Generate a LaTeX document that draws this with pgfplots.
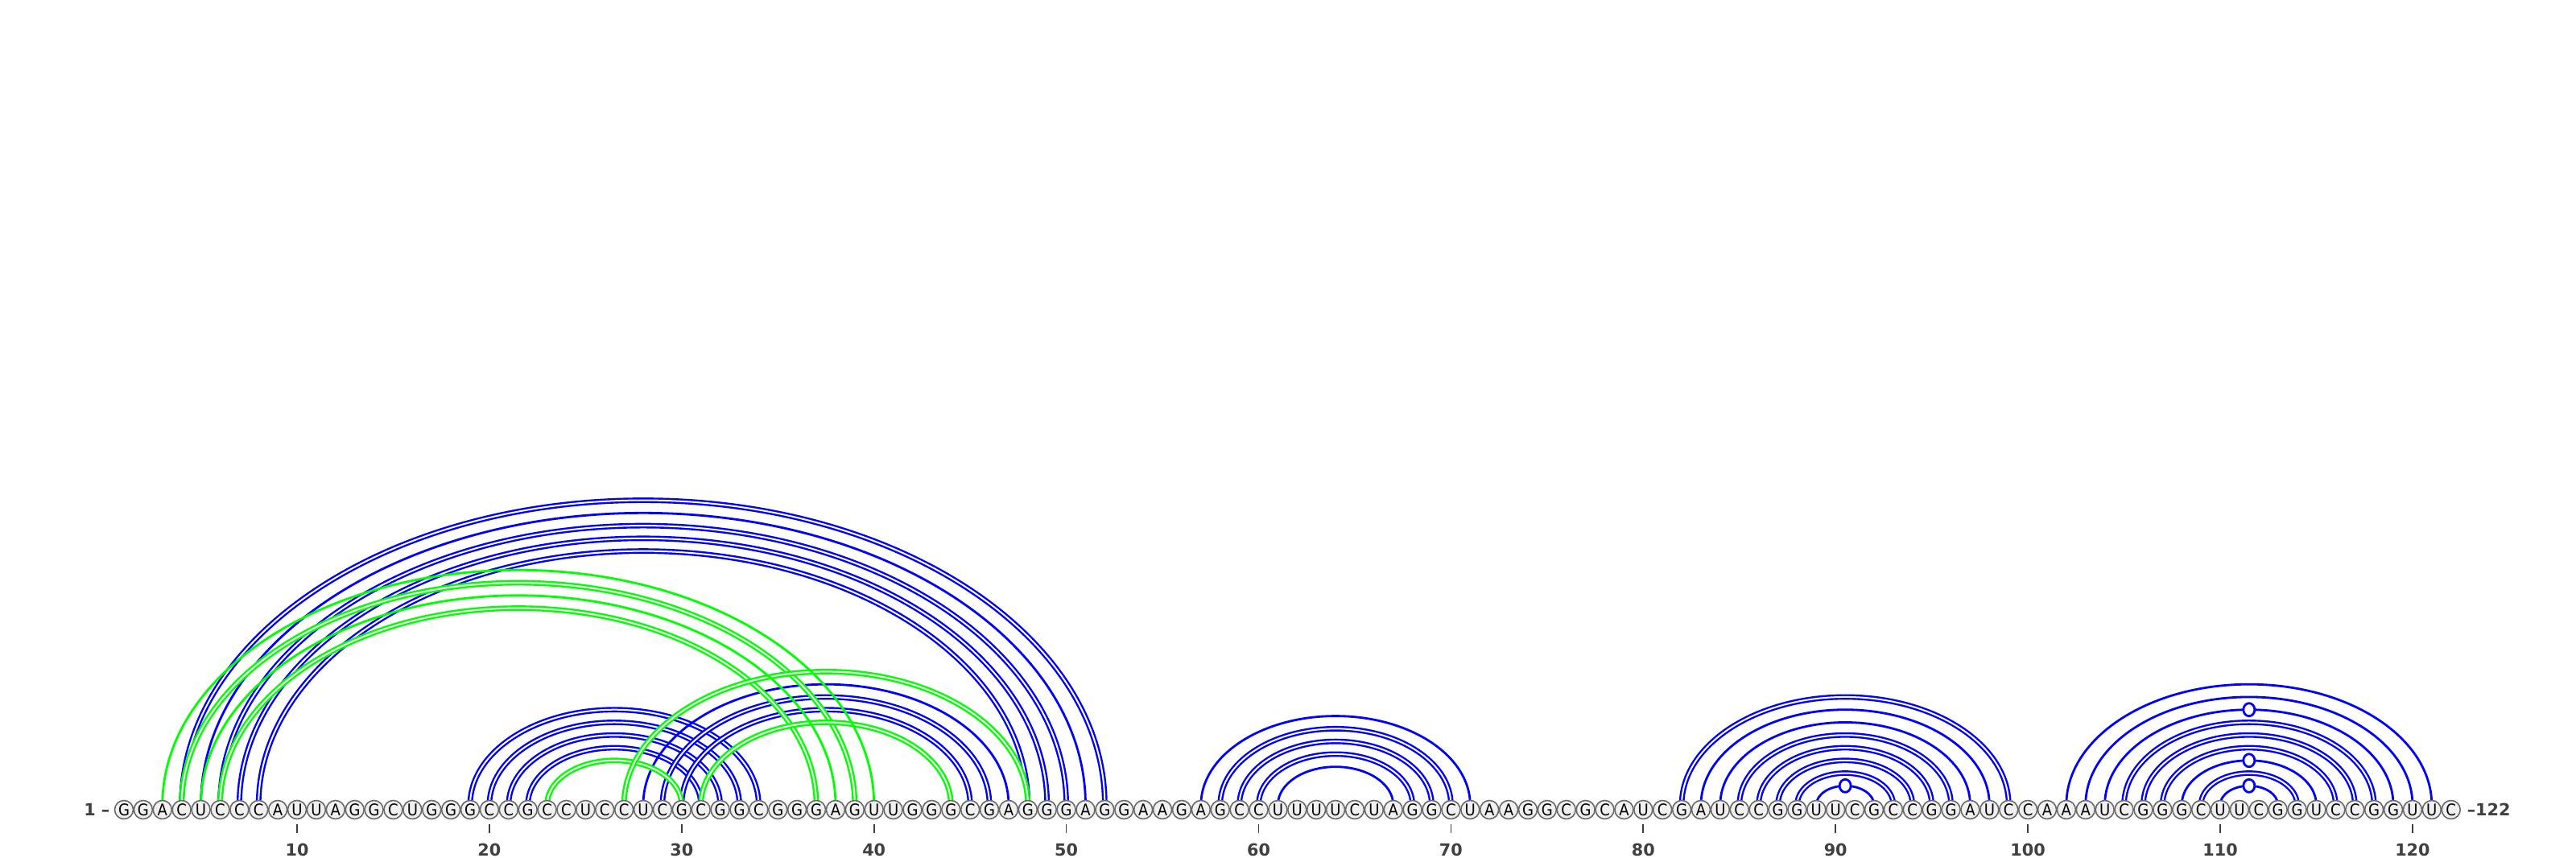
\documentclass[border=0pt]{standalone}
\usepackage{pgfplots}
\pgfplotsset{compat=1.18}
\usepackage{pgfplotstable}
\usepackage{fontspec}
\setmainfont{DejaVu Sans}
\newfontfamily\basefont[FakeStretch=0.9]{DejaVu Sans}
\definecolor{arcblue}{RGB}{0,0,255}
\definecolor{arcgreen}{RGB}{0,255,0}
\definecolor{ovalfill}{RGB}{240,240,240}
\definecolor{ovaldraw}{RGB}{105,105,105}
\definecolor{labgray}{RGB}{64,64,64}

% semi-elliptic arc marks; \arcspan = j - i (nucleotides), 1 nt = 2.389mm
\pgfdeclareplotmark{arcsingle}{%
  \pgfmathsetlengthmacro\arcrx{\arcspan*1.1945mm}%
  \pgfmathsetlengthmacro\arcry{0.66*\arcrx}%
  \pgfsetlinewidth{0.28mm}%
  \pgfpathmoveto{\pgfqpoint{-\arcrx}{0pt}}%
  \pgfpatharc{180}{0}{\arcrx and \arcry}%
  \pgfusepath{stroke}%
}
\pgfdeclareplotmark{arcdouble}{%
  \pgfmathsetlengthmacro\arcrx{\arcspan*1.1945mm}%
  \pgfmathsetlengthmacro\arcry{0.66*\arcrx}%
  \pgfsetlinewidth{0.68mm}%
  \pgfsetinnerlinewidth{0.2mm}%
  \pgfsetinnerstrokecolor{white}%
  \pgfpathmoveto{\pgfqpoint{-\arcrx}{0pt}}%
  \pgfpatharc{180}{0}{\arcrx and \arcry}%
  \pgfusepath{stroke}%
}
\pgfdeclareplotmark{arcgu}{%
  \pgfmathsetlengthmacro\arcrx{\arcspan*1.1945mm}%
  \pgfmathsetlengthmacro\arcry{0.66*\arcrx}%
  \pgfsetlinewidth{0.28mm}%
  \pgfpathmoveto{\pgfqpoint{-\arcrx}{0pt}}%
  \pgfpatharc{180}{0}{\arcrx and \arcry}%
  \pgfusepath{stroke}%
  \pgfpathellipse{\pgfqpoint{0pt}{\arcry}}{\pgfqpoint{0.7mm}{0pt}}{\pgfqpoint{0pt}{0.8mm}}%
  \pgfsetfillcolor{white}%
  \pgfusepath{fill,stroke}%
}

% base pairs (i, j)
\pgfplotstableread{
i j
4 52
6 50
7 49
8 48
19 34
20 33
21 32
22 31
29 46
30 45
58 70
59 69
60 68
82 99
85 96
86 95
87 94
88 93
105 118
106 117
107 116
109 114
}\bluedouble
\pgfplotstableread{
i j
5 51
28 47
57 71
61 67
83 98
84 97
102 121
103 120
}\bluesingle
\pgfplotstableread{
i j
89 92
104 119
108 115
110 113
}\bluegu
\pgfplotstableread{
i j
4 39
6 37
23 30
27 48
31 44
}\greendouble
\pgfplotstableread{
i j
3 40
5 38
}\greensingle
\pgfplotstableread{
p b
1 G
2 G
3 A
4 C
5 U
6 C
7 C
8 C
9 A
10 U
11 U
12 A
13 G
14 G
15 C
16 U
17 G
18 G
19 G
20 C
21 C
22 G
23 C
24 C
25 U
26 C
27 C
28 U
29 C
30 G
31 C
32 G
33 G
34 C
35 G
36 G
37 G
38 A
39 G
40 U
41 U
42 G
43 G
44 G
45 C
46 G
47 A
48 G
49 G
50 G
51 A
52 G
53 G
54 A
55 A
56 G
57 A
58 G
59 C
60 C
61 U
62 U
63 U
64 U
65 C
66 U
67 A
68 G
69 G
70 C
71 U
72 A
73 A
74 G
75 G
76 C
77 G
78 C
79 A
80 U
81 C
82 G
83 A
84 U
85 C
86 C
87 G
88 G
89 U
90 U
91 C
92 G
93 C
94 C
95 G
96 G
97 A
98 U
99 C
100 C
101 A
102 A
103 A
104 U
105 C
106 G
107 G
108 G
109 C
110 U
111 U
112 C
113 G
114 G
115 U
116 C
117 C
118 G
119 G
120 U
121 U
122 C
}\seqtable

\begin{document}
\begin{tikzpicture}
\begin{axis}[
  x=2.389mm, y=2.389mm,
  xmin=-5.446, xmax=128.501,
  ymin=0, ymax=42.863,
  axis x line*=bottom,
  axis y line=none,
  x axis line style={draw=none},
  xtick={10,20,...,120},
  ytick=\empty,
  xtick align=outside,
  major tick length=1.15mm,
  x tick style={draw=labgray, line width=0.17mm},
  xticklabel style={font=\fontsize{5.9}{7}\selectfont\bfseries, text=labgray},
  /pgf/number format/assume math mode=true,
  clip=false,
]
\coordinate (bl) at (axis cs:-5.446,-1.758);
\coordinate (tr) at (axis cs:128.501,42.863);

\addplot[only marks, mark=arcdouble, arcblue,
  visualization depends on={\thisrow{j}-\thisrow{i} \as \arcspan}]
  table[x expr={(\thisrow{i}+\thisrow{j})/2}, y expr=1.005] {\bluedouble};
\addplot[only marks, mark=arcsingle, arcblue,
  visualization depends on={\thisrow{j}-\thisrow{i} \as \arcspan}]
  table[x expr={(\thisrow{i}+\thisrow{j})/2}, y expr=1.005] {\bluesingle};
\addplot[only marks, mark=arcgu, arcblue,
  visualization depends on={\thisrow{j}-\thisrow{i} \as \arcspan}]
  table[x expr={(\thisrow{i}+\thisrow{j})/2}, y expr=1.005] {\bluegu};
\addplot[only marks, mark=arcdouble, arcgreen,
  visualization depends on={\thisrow{j}-\thisrow{i} \as \arcspan}]
  table[x expr={(\thisrow{i}+\thisrow{j})/2}, y expr=1.005] {\greendouble};
\addplot[only marks, mark=arcsingle, arcgreen,
  visualization depends on={\thisrow{j}-\thisrow{i} \as \arcspan}]
  table[x expr={(\thisrow{i}+\thisrow{j})/2}, y expr=1.005] {\greensingle};

\addplot[draw=none, mark=none,
  point meta=explicit symbolic,
  nodes near coords,
  nodes near coords align=center,
  every node near coord/.style={circle, draw=ovaldraw, fill=ovalfill,
    line width=0.16mm, inner sep=0pt, minimum size=2.3mm,
    font=\basefont\fontsize{5.7}{6}\selectfont, text=black, anchor=center}]
  table[x=p, y expr=0.753, meta=b] {\seqtable};

\node[anchor=east, font=\fontsize{5.9}{7}\selectfont\bfseries, text=labgray, inner sep=0pt]
  at (axis cs:0.29,0.753) {1 –};
\node[anchor=west, font=\fontsize{5.9}{7}\selectfont\bfseries, text=labgray, inner sep=0pt]
  at (axis cs:122.81,0.753) {–122};
\end{axis}
\pgfresetboundingbox
\path[use as bounding box] (bl) rectangle (tr);
\end{tikzpicture}
\end{document}
